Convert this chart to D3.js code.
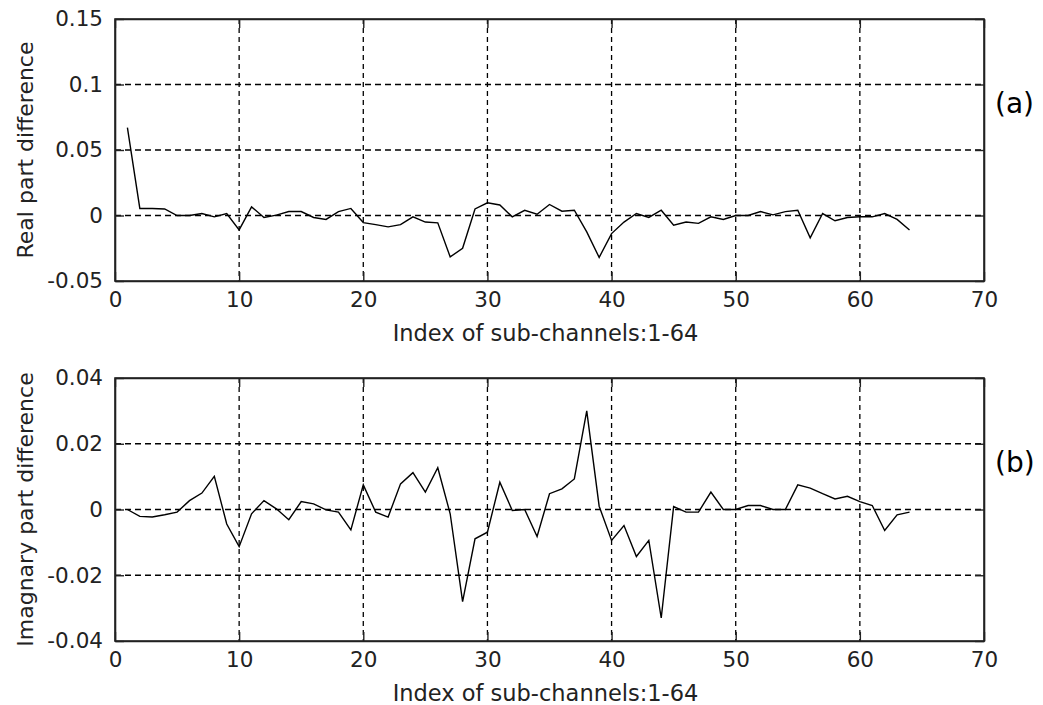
<!DOCTYPE html>
<html>
<head>
<meta charset="utf-8">
<script src="https://cdn.jsdelivr.net/npm/d3@7/dist/d3.min.js"></script>
<style>
  html, body { margin: 0; padding: 0; background: #fff; }
  svg text { font-family: "DejaVu Sans", sans-serif; }
</style>
</head>
<body>
<svg id="chart" width="1043" height="705"></svg>
<script>
// ---- data ----
const subChannels = d3.range(1, 65);
const realDiff = [
  0.067, 0.0054, 0.0054, 0.005, 0.000, 0.000, 0.0015, -0.001, 0.0015, -0.011,
  0.0066, -0.0015, 0.0003, 0.003, 0.003, -0.0015, -0.003, 0.003, 0.0054, -0.0054,
  -0.007, -0.0087, -0.007, -0.001, -0.005, -0.0056, -0.0316, -0.025, 0.005, 0.0097,
  0.008, -0.001, 0.004, 0.001, 0.0084, 0.0033, 0.004, -0.0125, -0.032, -0.0138,
  -0.005, 0.0015, -0.0015, 0.004, -0.0074, -0.005, -0.006, -0.001, -0.003, 0.000,
  0.000, 0.003, 0.0005, 0.003, 0.004, -0.017, 0.0015, -0.004, -0.0015, -0.001,
  -0.001, 0.0015, -0.003, -0.011
];
const imagDiff = [
  0.000, -0.0021, -0.0023, -0.0016, -0.0008, 0.0027, 0.005, 0.0101, -0.0044, -0.0113,
  -0.0013, 0.0027, 0.0002, -0.0031, 0.0024, 0.0017, -0.0001, -0.0008, -0.0062, 0.0075,
  -0.0008, -0.0023, 0.0078, 0.0112, 0.0053, 0.0127, -0.0013, -0.028, -0.0089, -0.0069,
  0.0083, -0.0003, 0.000, -0.0082, 0.0048, 0.0063, 0.0093, 0.030, 0.001, -0.0094,
  -0.0049, -0.0143, -0.0094, -0.033, 0.0009, -0.0008, -0.0008, 0.0053, 0.000, 0.000,
  0.0012, 0.0012, 0.000, 0.000, 0.0075, 0.0065, 0.0048, 0.0032, 0.004, 0.0024,
  0.0012, -0.0064, -0.0016, -0.0008
];
const xTicks = [0, 10, 20, 30, 40, 50, 60, 70];
const xTickLabels = ["0", "10", "20", "30", "40", "50", "60", "70"];
const realTicks = [-0.05, 0, 0.05, 0.1, 0.15];
const realTickLabels = ["-0.05", "0", "0.05", "0.1", "0.15"];
const imagTicks = [-0.04, -0.02, 0, 0.02, 0.04];
const imagTickLabels = ["-0.04", "-0.02", "0", "0.02", "0.04"];
const xLabel = "Index of sub-channels:1-64";

const panels = [
  { values: realDiff, ticks: realTicks, labels: realTickLabels, domain: [-0.05, 0.15],
    yLabel: "Real part difference", tag: "(a)", top: 19, bottom: 281 },
  { values: imagDiff, ticks: imagTicks, labels: imagTickLabels, domain: [-0.04, 0.04],
    yLabel: "Imagnary part difference", tag: "(b)", top: 378, bottom: 641 }
];

const svg = d3.select("#chart");
const left = 115, right = 984;
const x = d3.scaleLinear().domain([0, 70]).range([left, right]);
const tickLen = 9;

panels.forEach(p => {
  const y = d3.scaleLinear().domain(p.domain).range([p.bottom, p.top]);
  const g = svg.append("g");
  const h = p.bottom - p.top, w = right - left;

  // grid
  const grid = g.append("g").attr("class", "grid");
  grid.selectAll("line.vg").data(xTicks.slice(1, -1)).enter().append("line")
    .attr("x1", d => x(d)).attr("x2", d => x(d))
    .attr("y1", p.top).attr("y2", p.bottom)
    .attr("stroke", "#000").attr("stroke-width", 1.3).attr("stroke-dasharray", "5,4");
  grid.selectAll("line.hg").data(p.ticks.slice(1, -1)).enter().append("line")
    .attr("y1", d => y(d)).attr("y2", d => y(d))
    .attr("x1", left).attr("x2", right)
    .attr("stroke", "#000").attr("stroke-width", 1.3).attr("stroke-dasharray", "6,4");

  // data line
  const line = d3.line().x((d, i) => x(subChannels[i])).y(d => y(d));
  g.append("path").datum(p.values)
    .attr("fill", "none").attr("stroke", "#000").attr("stroke-width", 1.4)
    .attr("stroke-linejoin", "miter").attr("d", line);

  // axes (ticks inward)
  const fmtX = d => xTickLabels[xTicks.indexOf(d)];
  const fmtY = d => p.labels[p.ticks.indexOf(d)];
  const axB = g.append("g").attr("transform", `translate(0,${p.bottom})`)
    .call(d3.axisBottom(x).tickValues(xTicks).tickFormat(fmtX).tickSizeInner(-tickLen).tickSizeOuter(0).tickPadding(11));
  const axT = g.append("g").attr("transform", `translate(0,${p.top})`)
    .call(d3.axisTop(x).tickValues(xTicks).tickFormat("").tickSizeInner(-tickLen).tickSizeOuter(0));
  const axL = g.append("g").attr("transform", `translate(${left},0)`)
    .call(d3.axisLeft(y).tickValues(p.ticks).tickFormat(fmtY).tickSizeInner(-tickLen).tickSizeOuter(0).tickPadding(12));
  const axR = g.append("g").attr("transform", `translate(${right},0)`)
    .call(d3.axisRight(y).tickValues(p.ticks).tickFormat("").tickSizeInner(-tickLen).tickSizeOuter(0));
  [axB, axT, axL, axR].forEach(a => {
    a.select(".domain").attr("stroke", "#222").attr("stroke-width", 1.6);
    a.selectAll(".tick line").attr("stroke", "#222").attr("stroke-width", 1.4);
    a.selectAll(".tick text").attr("font-size", 21.5).attr("fill", "#222")
      .attr("font-family", "DejaVu Sans, sans-serif");
  });
  // box
  g.append("rect").attr("x", left).attr("y", p.top).attr("width", w).attr("height", h)
    .attr("fill", "none").attr("stroke", "#222").attr("stroke-width", 1.6);

  // labels
  g.append("text").attr("x", (left + right) / 2 - 4).attr("y", p.bottom + 60)
    .attr("text-anchor", "middle").attr("font-size", 22.5).attr("fill", "#222").text(xLabel);
  g.append("text")
    .attr("transform", `translate(33,${(p.top + p.bottom) / 2}) rotate(-90)`)
    .attr("text-anchor", "middle").attr("font-size", 22).attr("fill", "#222").text(p.yLabel);
  g.append("text").attr("x", 995).attr("y", y(p.ticks[3]) + 28)
    .attr("font-family", "Liberation Serif, Times New Roman, serif")
    .attr("font-size", 28).attr("fill", "#000").text(p.tag);
});
</script>
</body>
</html>
